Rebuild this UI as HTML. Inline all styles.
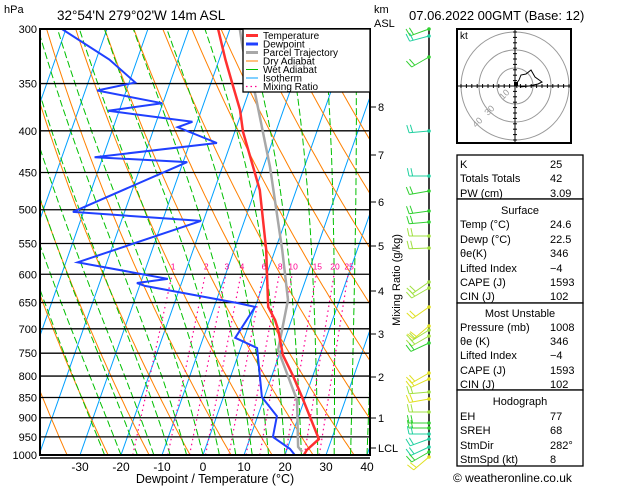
<!DOCTYPE html>
<html><head><meta charset="utf-8">
<style>
html,body{margin:0;padding:0;background:#fff;}
svg{display:block;font-family:"Liberation Sans",sans-serif;}
</style></head>
<body>
<svg id="chart" width="629" height="486" viewBox="0 0 629 486" xmlns="http://www.w3.org/2000/svg">
<defs><clipPath id="plotclip"><rect x="40" y="29" width="330" height="426"/></clipPath></defs>
<rect x="0" y="0" width="629" height="486" fill="#fff"/>
<g id="bg" clip-path="url(#plotclip)"></g>
<g id="grid"></g>
<g id="series" clip-path="url(#plotclip)"></g>
<g id="frame"></g>
<text x="4" y="13" font-size="11">hPa</text>
<text x="57" y="20" font-size="13.5">32°54'N  279°02'W  14m  ASL</text>
<text x="374" y="13" font-size="11">km</text>
<text x="374" y="27" font-size="11">ASL</text>
<text x="409" y="20" font-size="13">07.06.2022  00GMT  (Base: 12)</text>
<text x="215" y="483" font-size="12.5" text-anchor="middle">Dewpoint / Temperature (°C)</text>
<text x="0" y="0" font-size="11" text-anchor="middle" transform="translate(400,280) rotate(-90)">Mixing Ratio (g/kg)</text>
<g id="legend"></g>
<g id="barbs"></g>
<g id="hodo"></g>
<g id="table"></g>
<text x="453" y="482" font-size="12">© weatheronline.co.uk</text>
</svg>
<script>
// ---- data ----
const tempP = [1000,986,956,849,800,754,702,683,658,600,560,473,401,377,349,327,300];
const tempT = [24.6,24.9,26.9,19.2,15.2,10.9,7.6,6.0,3.2,0.1,-2.2,-8.9,-18,-20.6,-24.9,-28.5,-32.9];
const dewP = [1000,983,950,896,849,739,718,658,651,620,615,608,600,580,516,503,437,431,414,396,390,378,370,357,349,327,300];
const dewT = [22.4,20.7,15.5,14.7,9.4,4.0,-2.2,0,-4.5,-28.7,-30.9,-23.7,-30.2,-47.1,-20.6,-52.6,-29,-52,-23.4,-34.3,-31.2,-52.7,-40.2,-57.1,-48.5,-56.8,-71];
const parcelP = [991,977,856,743,645,560,443,361,317,300];
const parcelT = [23.9,22.5,18.2,9.3,7.4,1.7,-8.4,-18.2,-25.2,-27.6];
const pressureTicks = [300,350,400,450,500,550,600,650,700,750,800,850,900,950,1000];
const tempTicks = [-30,-20,-10,0,10,20,30,40];
const mixRatios = [1,2,3,4,6,8,10,15,20,25];
const kmTicks = [["8",107],["7",155],["6",202],["5",246],["4",291],["3",334],["2",377],["1",418],["LCL",448]];
const barbY = [29,36,57,131,176,191,211,222,236,248,282,288,307,326,330,336,343,373,379,392,399,412,423,428,434,439,447,452,457];
const barbDir = [250,255,240,265,270,260,262,265,270,268,235,240,235,230,238,240,245,240,245,265,260,270,270,270,270,250,245,240,230];
const barbCol = ["#30d030","#20d0a0","#30d030","#20d0a0","#20d0a0","#30d030","#30d030","#30d030","#a0e040","#a0e040","#a0e040","#a0e040","#e0e020","#e0e020","#a0e040","#a0e040","#30d030","#e0e020","#e0e020","#a0e040","#e0e020","#a0e040","#30d030","#30d030","#20d0a0","#20d0a0","#20d0a0","#30d030","#e0e020"];

const NS="http://www.w3.org/2000/svg";
function mk(tag,attrs,parent){const e=document.createElementNS(NS,tag);for(const k in attrs)e.setAttribute(k,attrs[k]);parent.appendChild(e);return e;}
const Y = p => 29 + 426*Math.log(p/300)/Math.log(1000/300);
const X = (T,p) => 203 + 4.1*T + 0.352*(455 - Y(p));
function pathFrom(ps,ts){return ps.map((p,i)=>(i?'L':'M')+X(ts[i],p).toFixed(1)+','+Y(p).toFixed(1)).join('');}

const bg=document.getElementById('bg');
for(let T=-120;T<=40;T+=10){
  const l=mk('line',{x1:X(T,1000),y1:Y(1000),x2:X(T,300),y2:Y(300),stroke:'#00a0ff','stroke-width':1},bg);
  
  
}
for(let th=240;th<=480;th+=10){
  let d='';for(let p=1000;p>=300;p-=10){const T=th*Math.pow(p/1000,0.286)-273.15;d+=(p==1000?'M':'L')+X(T,p).toFixed(1)+','+Y(p).toFixed(1);}
  const e=mk('path',{d:d,fill:'none',stroke:'#ff8000','stroke-width':1},bg);
  
  
}
function es(T){return 6.112*Math.exp(17.67*T/(T+243.5));}
for(let T0=-24;T0<=40;T0+=4){
  let T=T0,d='M'+X(T,1000).toFixed(1)+','+Y(1000).toFixed(1);
  for(let p=1000;p>300;p-=5){
    const Tk=T+273.15,e=es(T),rs=0.622*e/(p-e);
    const g=(287*Tk+2.5e6*rs)/(p*(1004+2.5e6*2.5e6*rs*0.622/(287*Tk*Tk)));
    T-=g*5;d+='L'+X(T,p-5).toFixed(1)+','+Y(p-5).toFixed(1);
  }
  const e=mk('path',{d:d,fill:'none',stroke:'#00c000','stroke-width':1,'stroke-dasharray':'7,3'},bg);
  
  
}
mixRatios.forEach(w=>{
  const Td=p=>{const e=w*p/(622+w);const a=Math.log(e/6.112);return 243.5*a/(17.67-a);};
  const e=mk('line',{x1:X(Td(1000),1000),y1:Y(1000),x2:X(Td(600),600),y2:Y(600),stroke:'#ff0090','stroke-width':1.2,'stroke-dasharray':'1.5,3.5'},bg);
  
  
  const t=mk('text',{x:X(Td(600),600)+1,y:Y(600)-5,'font-size':8.5,fill:'#ff0090','text-anchor':'middle'},document.getElementById('grid'));
  t.textContent=w;
  
  
});
const grid=document.getElementById('grid');
pressureTicks.forEach(p=>{
  const l=mk('line',{x1:40,x2:370,y1:Y(p),y2:Y(p),stroke:'#000','stroke-width':1.3},grid);
  
  
  const t=mk('text',{x:37,y:Y(p)+4,'font-size':11,'text-anchor':'end'},grid);
  t.textContent=p;
  
  
});
tempTicks.forEach(T=>{
  const t=mk('text',{x:X(T,1000),y:471,'font-size':12,'text-anchor':'middle'},grid);
  t.textContent=T;
  
  
});
kmTicks.forEach(k=>{
  mk('line',{x1:370,x2:376,y1:k[1],y2:k[1],stroke:'#000'},grid);
  const t=mk('text',{x:378,y:k[1]+4,'font-size':11},grid);
  t.textContent=k[0];
  
  
});
const ser=document.getElementById('series');
let e=mk('path',{d:pathFrom(parcelP,parcelT),fill:'none',stroke:'#a8a8a8','stroke-width':2.5},ser);


e=mk('path',{d:pathFrom(dewP,dewT),fill:'none',stroke:'#2040ff','stroke-width':2},ser);


e=mk('path',{d:pathFrom(tempP,tempT),fill:'none',stroke:'#ff3030','stroke-width':2.5},ser);


const fr=document.getElementById('frame');
mk('rect',{x:40,y:29,width:330,height:426,fill:'none',stroke:'#000','stroke-width':2},fr);
mk('line',{x1:40,x2:370,y1:458,y2:458,stroke:'#000','stroke-width':1.5},fr);
const lg=document.getElementById('legend');
mk('rect',{x:243,y:29,width:127,height:63,fill:'#fff',stroke:'#000','stroke-width':1.3},lg);
const legItems=[["Temperature","#ff3030",3,""],["Dewpoint","#2040ff",3,""],["Parcel Trajectory","#a8a8a8",3,""],["Dry Adiabat","#ff8000",1,""],["Wet Adiabat","#00c000",1,""],["Isotherm","#00a0ff",1,""],["Mixing Ratio","#ff0090",1.2,"1.5,3"]];
legItems.forEach((it,i)=>{
  const y=35.5+i*8.5;
  mk('line',{x1:246,x2:258,y1:y,y2:y,stroke:it[1],'stroke-width':it[2],'stroke-dasharray':it[3]||'none'},lg);
  const t=mk('text',{x:263,y:y+3.5,'font-size':10},lg);
  t.textContent=it[0];
  
  
});
const bb=document.getElementById('barbs');
mk('line',{x1:429,x2:429,y1:29,y2:457,stroke:'#000','stroke-width':1.5},bb);
barbY.forEach((y,i)=>{
  const a=barbDir[i]*Math.PI/180, c=barbCol[i];
  const dx=Math.sin(a)*20, dy=-Math.cos(a)*20;
  const ex=429+dx, ey=y+dy;
  const b=mk('g',{},bb);
  
  
  mk('circle',{cx:429,cy:y,r:1.8,fill:c},b);
  mk('line',{x1:429,y1:y,x2:ex,y2:ey,stroke:c,'stroke-width':1},b);
  const fa=a+Math.PI/2.3;
  const fx=Math.sin(fa)*8, fy=-Math.cos(fa)*8;
  mk('line',{x1:ex,y1:ey,x2:ex+fx,y2:ey+fy,stroke:c,'stroke-width':1},b);
  mk('line',{x1:ex-dx*0.18,y1:ey-dy*0.18,x2:ex-dx*0.18+fx,y2:ey-dy*0.18+fy,stroke:c,'stroke-width':1},b);
});
const hd=document.getElementById('hodo');
mk('rect',{x:457,y:29,width:114,height:114,fill:'#fff',stroke:'#000','stroke-width':2},hd);
[18,36,54].forEach(r=>mk('circle',{cx:515,cy:86,r:r,fill:'none',stroke:'#999','stroke-width':1},hd));
mk('line',{x1:458,x2:570,y1:86,y2:86,stroke:'#000'},hd);
mk('line',{x1:515,x2:515,y1:30,y2:142,stroke:'#000'},hd);
for(let k=-10;k<=10;k++){if(!k)continue;mk('line',{x1:515+k*5.4,x2:515+k*5.4,y1:84,y2:88,stroke:'#000'},hd);mk('line',{x1:513,x2:517,y1:86+k*5.4,y2:86+k*5.4,stroke:'#000'},hd);}
[["10",503,100],["30",488,116],["40",476,128]].forEach(l=>{const t=mk('text',{x:l[1],y:l[2],'font-size':9,fill:'#999',transform:`rotate(-45 ${l[1]} ${l[2]})`},hd);t.textContent=l[0];});
let t=mk('text',{x:460,y:39,'font-size':10},hd);t.textContent='kt';
mk('path',{d:'M517,88 L516,84 L519,80 L521,75 L526,74 L531,70 L535,77 L542,82 L538,84 L529,86 L520,87',fill:'none',stroke:'#000','stroke-width':1},hd);
mk('rect',{x:514,y:82,width:4,height:4,fill:'#000'},hd);
const tb=document.getElementById('table');
[[155,199],[199,303],[303,390],[390,466]].forEach(b=>mk('rect',{x:457,y:b[0],width:126,height:b[1]-b[0],fill:'#fff',stroke:'#000','stroke-width':1.3},tb));
const rows=[["K","25",164],["Totals Totals","42",178],["PW (cm)","3.09",193],["@Surface","",210],["Temp (°C)","24.6",224],["Dewp (°C)","22.5",239],["θe(K)","346",253],["Lifted Index","−4",268],["CAPE (J)","1593",282],["CIN (J)","102",296],["@Most Unstable","",313],["Pressure (mb)","1008",327],["θe (K)","346",341],["Lifted Index","−4",355],["CAPE (J)","1593",370],["CIN (J)","102",384],["@Hodograph","",401],["EH","77",416],["SREH","68",430],["StmDir","282°",445],["StmSpd (kt)","8",459]];
rows.forEach(r=>{
  if(r[0][0]=='@'){const t=mk('text',{x:520,y:r[2]+4,'font-size':11,'text-anchor':'middle'},tb);t.textContent=r[0].slice(1);return;}
  const a=mk('text',{x:460,y:r[2]+4,'font-size':11},tb);a.textContent=r[0];
  
  
  const b=mk('text',{x:550,y:r[2]+4,'font-size':11},tb);b.textContent=r[1];
  
  
});
</script>
</body></html>
